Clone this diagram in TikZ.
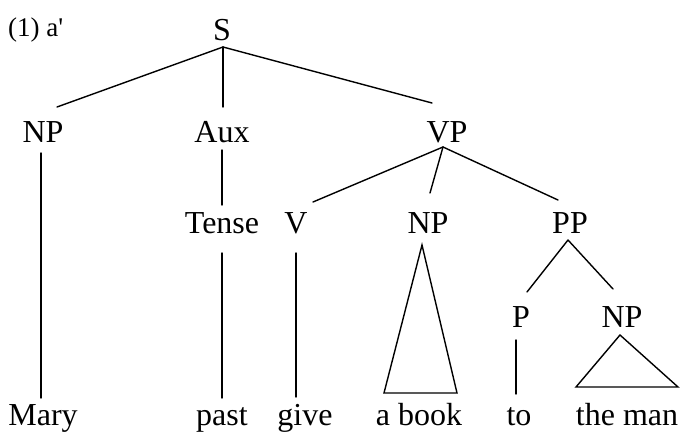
\documentclass[tikz,border=0pt]{standalone}
\usepackage{fontspec}
\setmainfont{Liberation Serif}
\begin{document}
\begin{tikzpicture}[x=1pt,y=-1pt,
  lbl/.style={anchor=base,inner sep=0pt,font=\fontsize{32}{32}\selectfont},
  edge/.style={line width=1.4pt,line cap=round,line join=miter}]
\useasboundingbox (0,0) rectangle (680,434);
% labels
\node[anchor=base west,inner sep=0pt,font=\fontsize{27}{27}\selectfont] (ex) at (8,36) {(1) a\textquotesingle};
\node[lbl] (S) at (222,40) {S};
\node[lbl] (NPa) at (43,142) {NP};
\node[lbl] (Aux) at (222,142) {Aux};
\node[lbl] (VP) at (447,142) {VP};
\node[lbl] (Tense) at (222,233) {Tense};
\node[lbl] (V) at (296,233) {V};
\node[lbl] (NPb) at (428,233) {NP};
\node[lbl] (PP) at (570,233) {PP};
\node[lbl] (P) at (521,327) {P};
\node[lbl] (NPc) at (622,327) {NP};
\node[lbl] (Mary) at (43,425) {Mary};
\node[lbl] (past) at (222,425) {past};
\node[lbl] (give) at (305,425) {give};
\node[lbl] (abook) at (419,425) {a book};
\node[lbl] (to) at (519,425) {to};
\node[lbl] (theman) at (627,425) {the man};
% connector end points
\coordinate (S-b) at (223,47);
\coordinate (NPa-t) at (57,107);
\coordinate (Aux-t) at (223,107);
\coordinate (VP-t) at (432,103);
\coordinate (NPa-b) at (41,153);
\coordinate (Mary-t) at (41,398);
\coordinate (Aux-b) at (222,150);
\coordinate (Tense-t) at (222,205);
\coordinate (Tense-b) at (222,253);
\coordinate (past-t) at (222,398);
\coordinate (VP-b) at (443,147);
\coordinate (V-t) at (313,202);
\coordinate (NPb-t) at (430,193);
\coordinate (PP-t) at (558,200);
\coordinate (V-b) at (296,253);
\coordinate (give-t) at (296,397);
\coordinate (NPb-b) at (422,245);
\coordinate (abook-l) at (384,393);
\coordinate (abook-r) at (457,393);
\coordinate (PP-b) at (568,240);
\coordinate (P-t) at (527,292);
\coordinate (NPc-t) at (613,289);
\coordinate (P-b) at (516,340);
\coordinate (to-t) at (516,394);
\coordinate (NPc-b) at (620,335);
\coordinate (theman-l) at (576,387);
\coordinate (theman-r) at (678,387);
% connectors
\draw[edge] (S-b) -- (NPa-t);
\draw[edge] (S-b) -- (Aux-t);
\draw[edge] (S-b) -- (VP-t);
\draw[edge] (NPa-b) -- (Mary-t);
\draw[edge] (Aux-b) -- (Tense-t);
\draw[edge] (Tense-b) -- (past-t);
\draw[edge] (VP-b) -- (V-t);
\draw[edge] (VP-b) -- (NPb-t);
\draw[edge] (VP-b) -- (PP-t);
\draw[edge] (V-b) -- (give-t);
\draw[edge] (NPb-b) -- (abook-l) -- (abook-r) -- cycle;
\draw[edge] (PP-b) -- (P-t);
\draw[edge] (PP-b) -- (NPc-t);
\draw[edge] (P-b) -- (to-t);
\draw[edge] (NPc-b) -- (theman-l) -- (theman-r) -- cycle;
\end{tikzpicture}
\end{document}
